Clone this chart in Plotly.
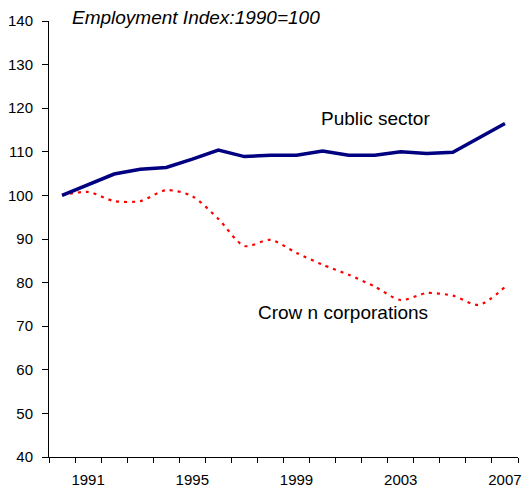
import plotly.graph_objects as go

years = [str(y) for y in range(1990, 2008)]
public_sector = [100.0, 102.4, 104.9, 106.0, 106.4, 108.3, 110.4, 108.9, 109.2, 109.2,
                 110.2, 109.2, 109.2, 110.0, 109.6, 109.9, 113.3, 116.5]
crown_corps = [100.0, 100.8, 98.7, 98.7, 101.2, 99.8, 94.6, 88.4, 89.8, 86.8,
               84.1, 81.8, 79.1, 76.0, 77.6, 77.0, 74.9, 79.0]
x_labels = ["1991", "1995", "1999", "2003", "2007"]
y_ticks = list(range(40, 141, 10))

FONT = "Liberation Sans, Arial, sans-serif"

fig = go.Figure()
fig.add_trace(go.Scatter(
    x=years, y=crown_corps, mode="lines",
    line=dict(color="#FF0000", width=2.2, dash="3px,5px", shape="spline", smoothing=0.8),
    showlegend=False, hoverinfo="skip"))
fig.add_trace(go.Scatter(
    x=years, y=public_sector, mode="lines",
    line=dict(color="#000080", width=3.5),
    showlegend=False, hoverinfo="skip"))

fig.update_layout(
    width=531, height=491,
    margin=dict(l=49, r=13, t=21, b=34),
    paper_bgcolor="white", plot_bgcolor="white",
    font=dict(family=FONT, size=15, color="#000000"),
    xaxis=dict(
        type="category", range=[-0.5, len(years) - 0.5],
        tickmode="array", tickvals=years,
        ticktext=[y if y in x_labels else "" for y in years],
        tickson="boundaries", ticks="outside", ticklen=5, tickcolor="black", tickwidth=1,
        tickangle=0, automargin=False,
        showline=True, linecolor="black", linewidth=1, showgrid=False, zeroline=False,
        tickfont=dict(size=15, family=FONT), ticklabelstandoff=9),
    yaxis=dict(
        range=[40, 140], tickvals=y_ticks, ticks="outside", ticklen=6,
        tickcolor="black", tickwidth=1, automargin=False,
        showline=True, linecolor="black", linewidth=1, showgrid=False, zeroline=False,
        tickfont=dict(size=15, family=FONT), ticklabelstandoff=6),
    annotations=[
        dict(text="<i>Employment Index:1990=100</i>", xref="paper", yref="paper",
             x=0.044, y=1.009, xanchor="left", yanchor="middle", showarrow=False,
             font=dict(size=19, family=FONT, color="black")),
        dict(text="Public sector", xref="paper", yref="paper",
             x=0.576, y=0.777, xanchor="left", yanchor="middle", showarrow=False,
             font=dict(size=19, family=FONT, color="black")),
        dict(text="Crow n corporations", xref="paper", yref="paper",
             x=0.442, y=0.331, xanchor="left", yanchor="middle", showarrow=False,
             font=dict(size=19, family=FONT, color="black")),
    ],
)

fig.write_html("out.html", config={"displayModeBar": False},
               post_script="document.body.style.margin='0';document.body.style.overflow='hidden';")
